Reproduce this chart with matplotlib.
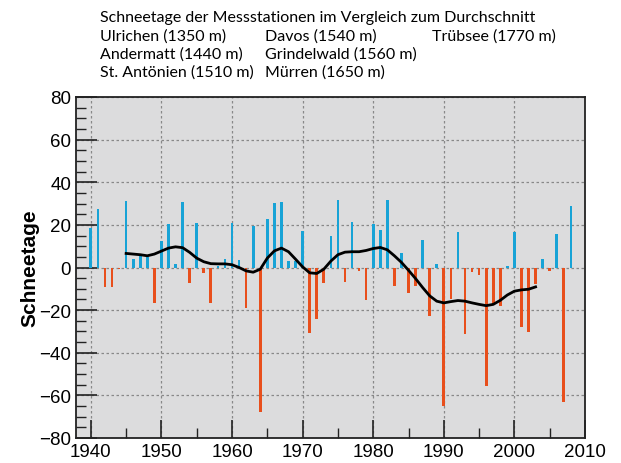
import matplotlib.pyplot as plt
import numpy as np
from matplotlib.ticker import MultipleLocator

YEARS = list(range(1940, 2009))
SNOW_DAYS = [
    18.4, 27.5, -9.1, -9.1, -0.8, 31.0, 3.9, 5.5, 5.0, -16.8,
    12.5, 20.4, 1.6, 30.9, -7.5, 20.7, -2.8, -16.5, 0.5, 3.8,
    20.9, 3.3, -19.0, 19.3, -67.6, 22.7, 30.1, 30.6, 3.0, 3.0,
    16.9, -30.7, -24.0, -7.4, 14.7, 31.7, -6.7, 21.2, -1.6, -15.4,
    20.4, 17.6, 31.7, -8.9, 6.7, -11.8, -8.6, 13.0, -22.7, 1.7,
    -64.8, -14.6, 16.5, -31.4, -2.0, -3.3, -55.7, -17.3, -18.0, 0.5,
    16.8, -27.9, -30.3, -7.8, 3.9, -1.6, 15.7, -63.0, 28.7,
]
TREND_YEARS = list(range(1945, 2004))
TREND = [
    6.6, 6.3, 6.0, 5.5, 6.3, 7.7, 9.1, 9.7, 9.3, 7.1,
    4.4, 2.7, 1.8, 1.7, 1.7, 1.3, 0.0, -1.6, -2.2, -0.8,
    4.4, 7.8, 9.1, 7.4, 3.9, 0.3, -2.5, -2.8, -0.8, 3.0,
    6.0, 7.2, 7.4, 7.4, 8.0, 8.9, 9.4, 8.3, 5.5, 2.4,
    -1.3, -5.2, -9.4, -13.3, -15.8, -16.6, -16.0, -15.5, -15.8, -16.6,
    -17.3, -17.9, -17.3, -15.4, -12.9, -11.1, -10.5, -10.2, -9.1,
]
STATIONS = [
    ["Ulrichen (1350 m)", "Andermatt (1440 m)", "St. Antönien (1510 m)"],
    ["Davos (1540 m)", "Grindelwald (1560 m)", "Mürren (1650 m)"],
    ["Trübsee (1770 m)"],
]
TITLE = "Schneetage der Messstationen im Vergleich zum Durchschnitt"

BLUE = "#18a3d6"
ORANGE = "#e84f1c"

fig = plt.figure(figsize=(6.21, 4.64), dpi=100)
ax = fig.add_axes([76 / 621, 1 - 439 / 464, (585 - 76) / 621, (439 - 98) / 464])
ax.set_facecolor("#dcdcdd")

vals = np.array(SNOW_DAYS)
colors = [BLUE if v >= 0 else ORANGE for v in vals]
ax.bar(YEARS, vals, width=0.38, color=colors, zorder=3)
ax.plot(TREND_YEARS, TREND, color="black", lw=2.0, zorder=4)

ax.set_xlim(1937.9, 2010)
ax.set_ylim(-80, 80)
ax.xaxis.set_major_locator(MultipleLocator(10))
ax.xaxis.set_minor_locator(MultipleLocator(5))
ax.yaxis.set_major_locator(MultipleLocator(20))
ax.yaxis.set_minor_locator(MultipleLocator(5))
ax.tick_params(which="both", direction="in", labelsize=13.5, color="#222222")
ax.tick_params(which="major", length=13, width=1.2)
ax.tick_params(which="minor", length=7, width=1.0)
ax.tick_params(axis="y", which="major", length=15)
for lab in ax.get_xticklabels() + ax.get_yticklabels():
    lab.set_family("Liberation Sans")
ax.grid(True, which="major", color="#888888", ls=(0, (2, 2)), lw=0.9, zorder=1)
for s in ax.spines.values():
    s.set_color("#222222")
    s.set_linewidth(1.3)

ax.set_ylabel("Schneetage", fontsize=15, fontweight="bold", family="Liberation Sans")
ax.yaxis.set_label_coords(-0.072, 0.5)

fig.text(100 / 621, 1 - 18 / 464, TITLE, fontsize=11.5, family="Lato", va="center")
col_x = [100, 265, 432]
row_y = [37, 55, 73]
for cx, col in zip(col_x, STATIONS):
    for ry, name in zip(row_y, col):
        fig.text(cx / 621, 1 - ry / 464, name, fontsize=11.5, family="Lato", va="center")

fig.savefig("out.png", dpi=100)
